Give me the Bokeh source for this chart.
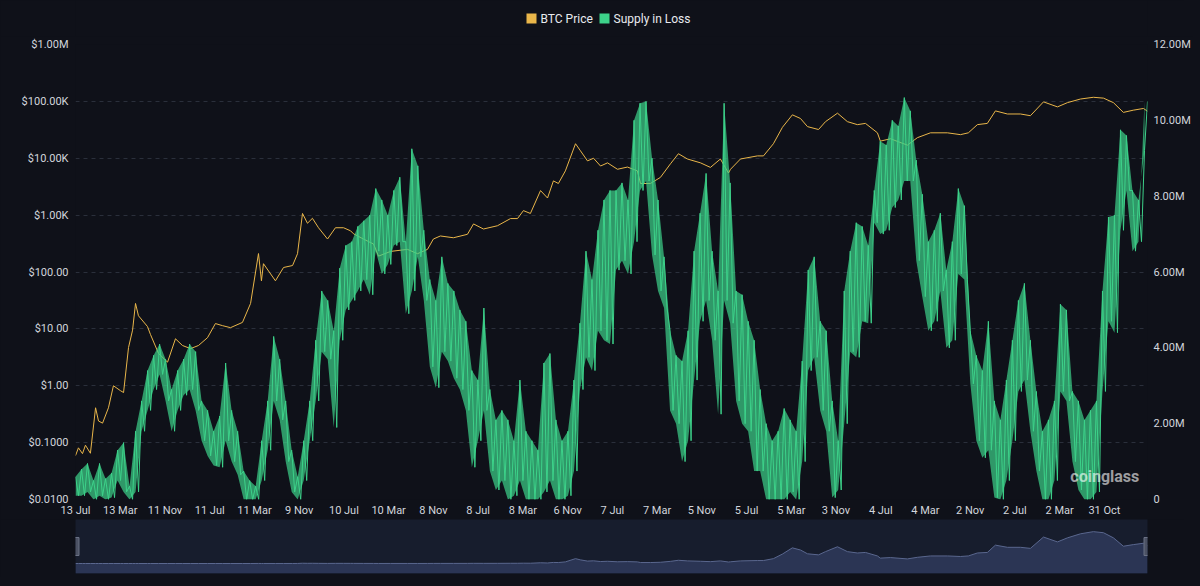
import numpy as np
from bokeh.plotting import figure
from bokeh.models import (Range1d, LinearScale, LinearAxis, FixedTicker, CustomJSTickFormatter, Label)
from bokeh.layouts import column
from bokeh.embed import file_html
from bokeh.resources import INLINE
from bokeh.core.properties import value

# ---------------- data ----------------
# x axis: days since 13 Jul 2010, one label every 243 days
END_DAY = 5823
x_tick_days = [243 * i for i in range(24)]
x_tick_labels = ["13 Jul", "13 Mar", "11 Nov", "11 Jul", "11 Mar", "9 Nov", "10 Jul", "10 Mar",
                 "8 Nov", "8 Jul", "8 Mar", "6 Nov", "7 Jul", "7 Mar", "5 Nov", "5 Jul",
                 "5 Mar", "3 Nov", "4 Jul", "4 Mar", "2 Nov", "2 Jul", "2 Mar", "31 Oct"]

y_left_ticks = [0.01, 0.1, 1, 10, 100, 1e3, 1e4, 1e5, 1e6]
y_left_labels = ["$0.0100", "$0.1000", "$1.00", "$10.00", "$100.00", "$1.00K", "$10.00K",
                 "$100.00K", "$1.00M"]
y_right_ticks = [0, 2, 4, 6, 8, 10, 12]
y_right_labels = ["0", "2.00M", "4.00M", "6.00M", "8.00M", "10.00M", "12.00M"]

series_names = ["BTC Price", "Supply in Loss"]

# BTC price (USD) at days since 13 Jul 2010
price_day = [0, 16, 38, 54, 81, 109, 125, 147, 179, 206, 244, 261, 288, 310, 326, 342, 391, 407,
             451, 500, 543, 581, 625, 668, 717, 760, 798, 842, 907, 951, 994, 1010, 1021, 1086,
             1130, 1179, 1206, 1233, 1260, 1287, 1320, 1369, 1412, 1456, 1494, 1510, 1564, 1619,
             1646, 1711, 1803, 1858, 1912, 1944, 1982, 2053, 2129, 2162, 2216, 2292, 2363, 2401,
             2433, 2471, 2526, 2564, 2596, 2623, 2661, 2716, 2743, 2781, 2814, 2852, 2890, 2944,
             2998, 3052, 3069, 3123, 3177, 3232, 3275, 3324, 3395, 3449, 3503, 3547, 3558, 3612,
             3704, 3737, 3791, 3840, 3894, 3938, 3976, 4036, 4074, 4139, 4193, 4247, 4291, 4356,
             4372, 4427, 4519, 4573, 4644, 4736, 4807, 4850, 4899, 4953, 4997, 5062, 5133, 5187,
             5258, 5334, 5388, 5459, 5529, 5584, 5638, 5692, 5746, 5801, 5823]
price_usd = [0.059, 0.081, 0.064, 0.09, 0.065, 0.41, 0.24, 0.22, 0.41, 1.0, 0.82, 0.76, 4.7, 9.5,
             28, 17, 11, 8, 3.7, 2.6, 6.7, 5.1, 4.5, 5.1, 7, 12.4, 11.4, 10.5, 13, 28, 211, 70,
             140, 70, 120, 130, 210, 1070, 720, 880, 600, 380, 600, 600, 530, 470, 380, 310, 190,
             230, 250, 210, 250, 380, 430, 400, 460, 700, 570, 650, 870, 870, 1200, 1070, 2700,
             2000, 4000, 3600, 6000, 18000, 13500, 9000, 10000, 7300, 8300, 6400, 7000, 6000,
             3600, 3600, 4600, 8000, 12000, 9700, 8300, 6900, 9700, 5500, 6400, 9700, 11000,
             11000, 18000, 35000, 58000, 50000, 36000, 32000, 44000, 62000, 44000, 39000, 41000,
             28000, 20000, 22000, 17000, 23000, 28000, 28000, 26000, 28000, 39000, 41000, 68000,
             60000, 60000, 56000, 98000, 80000, 95000, 110000, 118000, 114000, 95000, 64000,
             70000, 75000, 67000]

# Supply in loss (millions of BTC), evenly spaced samples from 13 Jul 2010 to the end
supply_m = [
    0.6, 0.1, 0.8, 0.1, 0.95, 0.2, 0.5, 0.0, 0.95, 0.1, 0.55, 0.0, 0.7, 0.05, 1.3, 0.5,
    1.5, 0.2, 0.35, 0.0, 1.8, 0.2, 2.6, 1.8, 3.4, 2.35, 3.8, 2.9, 4.1, 3.3, 3.7, 2.6,
    2.9, 1.8, 3.4, 2.35, 3.7, 2.75, 4.1, 2.9, 3.9, 2.35, 2.6, 1.55, 2.35, 1.15, 1.8, 0.9,
    2.2, 0.85, 3.6, 1.55, 2.35, 1.0, 1.8, 0.65, 0.75, 0.0, 0.5, 0.0, 0.35, 0.0, 1.55, 0.5,
    2.6, 1.3, 4.3, 2.6, 3.7, 2.1, 2.6, 1.0, 1.3, 0.2, 0.6, 0.0, 1.55, 0.5, 2.6, 1.55,
    4.2, 2.6, 5.5, 3.9, 5.25, 3.7, 4.45, 1.9, 6.1, 4.2, 6.7, 5.0, 6.8, 5.25, 7.2, 5.5,
    7.35, 5.8, 7.5, 5.4, 8.2, 6.55, 7.9, 5.95, 7.5, 6.2, 8.15, 6.7, 8.5, 6.8, 6.8, 4.9,
    9.25, 5.5, 8.8, 6.4, 7.1, 5.25, 5.8, 3.5, 5.25, 2.95, 6.4, 3.9, 5.7, 3.65, 5.5, 3.2,
    5.0, 2.9, 4.7, 2.35, 3.4, 0.85, 3.15, 1.55, 5.05, 2.35, 2.9, 0.75, 2.1, 0.25, 2.35, 0.5,
    2.1, 0.0, 1.55, 0.1, 3.15, 0.5, 1.8, 0.0, 1.55, 0.0, 1.3, 0.0, 3.6, 0.2, 3.85, 0.5,
    2.1, 0.0, 1.55, 0.0, 1.8, 0.1, 3.15, 0.75, 4.65, 2.9, 6.55, 3.75, 5.8, 3.4, 7.1, 4.45,
    7.9, 4.2, 8.15, 4.1, 8.15, 6.05, 8.35, 6.3, 7.9, 5.95, 10.0, 6.8, 10.45, 8.15, 10.5, 8.4,
    9.0, 6.45, 7.9, 5.5, 6.4, 5.05, 4.45, 2.35, 3.8, 2.0, 3.65, 1.0, 4.45, 1.55, 6.55, 3.15,
    7.55, 4.7, 8.6, 5.25, 6.55, 4.2, 5.5, 2.25, 10.45, 5.25, 8.35, 4.65, 5.5, 2.6, 5.4, 2.0,
    4.7, 1.8, 4.2, 0.75, 2.9, 0.75, 2.0, 0.0, 1.55, 0.0, 1.8, 0.0, 2.4, 0.0, 2.1, 0.2,
    1.8, 0.0, 3.65, 1.0, 6.05, 3.4, 6.4, 3.75, 4.7, 2.35, 4.45, 1.8, 2.6, 0.05, 1.55, 0.25,
    5.5, 2.0, 6.55, 3.9, 7.3, 3.75, 7.2, 4.7, 6.7, 4.65, 8.15, 7.3, 9.45, 7.0, 9.35, 7.1,
    10.0, 7.7, 9.85, 7.9, 10.6, 8.4, 10.25, 8.4, 8.95, 6.3, 8.05, 5.35, 6.8, 4.45, 7.1, 4.7,
    7.55, 5.5, 6.05, 4.0, 6.8, 4.2, 8.2, 5.95, 7.75, 5.8, 4.45, 3.05, 3.8, 1.55, 3.4, 1.1,
    4.7, 1.3, 2.6, 0.05, 2.1, 0.0, 3.15, 0.5, 4.2, 1.55, 5.25, 2.85, 5.7, 3.15, 4.2, 1.8,
    2.85, 0.75, 1.8, 0.0, 2.1, 0.0, 2.6, 0.5, 5.15, 2.85, 5.0, 2.6, 2.85, 1.0, 2.6, 0.25,
    2.1, 0.0, 2.35, 0.0, 2.6, 0.2, 5.5, 2.85, 7.45, 4.7, 7.5, 4.4, 9.75, 7.1, 9.6, 8.15,
    8.15, 6.55, 7.9, 6.8, 9.2, 10.5,
]
supply_day = np.linspace(0, END_DAY, len(supply_m))
supply_hi = supply_m[0::2]
supply_lo = supply_m[1::2]
supply_hi_day = supply_day[0::2]

# ---------------- style ----------------
BG = "#0f1119"
ORANGE = "#e9b64a"
GREEN = "#3dd28a"
GRID = "#2a2f3b"
TXT = "#d2d5dc"
FONT = "Roboto"
FW, FH = 1072, 455
LEFT, RIGHT = 75, 37

fmt_code = """
for (let i = 0; i < vals.length; i++) {
  const v = vals[i];
  if (Math.abs(v - tick) <= 1e-6 * Math.max(1, Math.abs(v))) return labs[i];
}
return '';
"""

# ---------------- legend header (frame aligned with the chart frame) ----------------
h = figure(frame_width=FW, frame_height=36, output_backend="svg", toolbar_location=None,
           x_range=Range1d(LEFT, LEFT + FW), y_range=Range1d(0, 36),
           background_fill_color=BG, border_fill_color=BG, outline_line_color=None,
           min_border_left=LEFT, min_border_right=RIGHT, min_border_top=0, min_border_bottom=0)
h.axis.visible = False
h.grid.visible = False
h.rect(x=[531, 604], y=[18, 18], width=10, height=10, width_units="screen", height_units="screen",
       fill_color=[ORANGE, GREEN], line_color=None)
h.text(x=[540, 613], y=[18, 18], text=series_names, text_color="#e8eaef",
       text_font=value(FONT), text_font_size="12px", text_baseline="middle", text_align="left")

# ---------------- main chart ----------------
p = figure(frame_width=FW, frame_height=FH, output_backend="svg", toolbar_location=None,
           y_axis_type="log", x_range=Range1d(0, END_DAY), y_range=Range1d(0.01, 1e6),
           background_fill_color=BG, border_fill_color=BG, outline_line_color=None,
           min_border_left=LEFT, min_border_right=RIGHT, min_border_top=8, min_border_bottom=19)
p.extra_y_ranges = {"supply": Range1d(0, 12)}
p.extra_y_scales = {"supply": LinearScale()}

p.xgrid.visible = False
p.ygrid.grid_line_color = GRID
p.ygrid.grid_line_dash = "4 4"
p.ygrid.minor_grid_line_color = None

yl = p.yaxis[0]
yl.ticker = FixedTicker(ticks=y_left_ticks, minor_ticks=[])
yl.formatter = CustomJSTickFormatter(args=dict(vals=y_left_ticks, labs=y_left_labels), code=fmt_code)

yr = LinearAxis(y_range_name="supply",
                ticker=FixedTicker(ticks=y_right_ticks, minor_ticks=[]),
                formatter=CustomJSTickFormatter(args=dict(vals=y_right_ticks, labs=y_right_labels),
                                                code=fmt_code))
p.add_layout(yr, "right")

xa = p.xaxis[0]
xa.ticker = FixedTicker(ticks=x_tick_days, minor_ticks=[])
xa.formatter = CustomJSTickFormatter(args=dict(vals=x_tick_days, labs=x_tick_labels), code=fmt_code)

for ax in (xa, yl, yr):
    ax.axis_line_color = None
    ax.major_tick_line_color = None
    ax.minor_tick_line_color = None
    ax.major_tick_out = 0
    ax.major_tick_in = 0
    ax.minor_tick_out = 0
    ax.major_label_text_color = TXT
    ax.major_label_text_font = FONT
    ax.major_label_text_font_size = "11px"
xa.major_label_standoff = 4
yl.major_label_standoff = 7
yr.major_label_standoff = 6

p.line(price_day, price_usd, line_color=ORANGE, line_width=1)
p.varea(x=supply_hi_day, y1=supply_lo, y2=supply_hi, y_range_name="supply",
        fill_color=GREEN, fill_alpha=0.7)
p.line(supply_day, supply_m, y_range_name="supply", line_color=GREEN, line_width=1)

# watermark
p.add_layout(Label(x=5404, y=0.0254, text="coinglass", text_color="#ffffff", text_alpha=0.6,
                   text_font=FONT, text_font_size="16px", text_font_style="bold",
                   text_baseline="middle"))

# ---------------- overview slider ----------------
s = figure(frame_width=FW, frame_height=54, output_backend="svg", toolbar_location=None,
           x_range=p.x_range, y_range=Range1d(-37000, 163000),
           background_fill_color="#171d2d", border_fill_color=BG, outline_line_color=None,
           min_border_left=LEFT, min_border_right=RIGHT, min_border_top=0, min_border_bottom=4)
s.axis.visible = False
s.grid.visible = False
s.varea(x=price_day, y1=-37000, y2=price_usd, fill_color="#2b3554")
s.line(price_day, price_usd, line_color="#5a678e", line_width=1)
s.rect(x=[0, END_DAY], y=[63000, 63000], width=7, height=18, width_units="screen",
       height_units="screen", fill_color="#4b5163", line_color="#6b7285")

layout = column(h, p, s, spacing=0)
layout.background = BG

html = file_html(layout, INLINE)
html = html.replace("<body>", '<body style="background:%s">' % BG)
open("out.html", "w").write(html)
